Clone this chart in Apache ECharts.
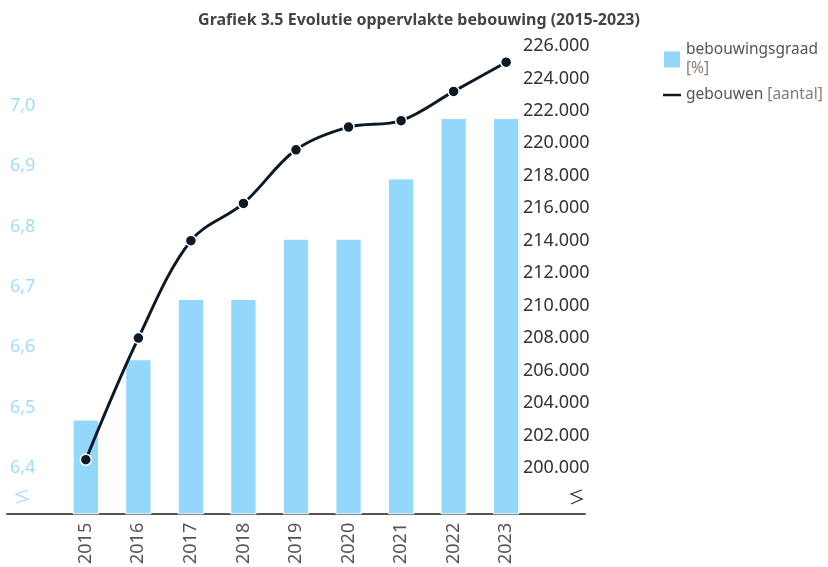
<!DOCTYPE html>
<html><head><meta charset="utf-8">
<script src="https://cdn.jsdelivr.net/npm/echarts@6/dist/echarts.min.js"></script>
<style>html,body{margin:0;padding:0;background:#fff}#c{width:828px;height:567px}</style>
</head><body><div id="c"></div>
<script>
const years = ['2015','2016','2017','2018','2019','2020','2021','2022','2023'];
const bebouwingsgraad = [6.48, 6.58, 6.68, 6.68, 6.78, 6.78, 6.88, 6.98, 6.98];
const gebouwen = [200500, 208000, 214000, 216300, 219600, 221000, 221400, 223200, 225000];
const leftTicks = [6.4, 6.5, 6.6, 6.7, 6.8, 6.9, 7.0];
const rightTicks = [200000,202000,204000,206000,208000,210000,212000,214000,216000,218000,220000,222000,224000,226000];

const FONT = '"Noto Sans", "Open Sans", sans-serif';
const cats = [''].concat(years, ['']);
const barData = ['-'].concat(bebouwingsgraad, ['-']);
const lineData = ['-'].concat(gebouwen, ['-']);

function fmtThousands(v){
  return String(Math.round(v)).replace(/\B(?=(\d{3})+(?!\d))/g, '.');
}

const chart = echarts.init(document.getElementById('c'), null, {renderer:'canvas'});
chart.setOption({
  animation: false,
  backgroundColor: '#fff',
  title: {
    text: 'Grafiek 3.5 Evolutie oppervlakte bebouwing (2015-2023)',
    left: 414, top: 7, textAlign: 'center',
    textStyle: {fontFamily: FONT, fontSize: 16, fontWeight: 'bold', color: '#444'}
  },
  legend: {
    orient: 'vertical', left: 662, top: 42, itemGap: 9, padding: 0,
    itemWidth: 18, itemHeight: 18,
    data: [
      {name: 'bebouwingsgraad', icon: 'rect'},
      {name: 'gebouwen',
       icon: 'path://M0,8.5 L20,8.5 L20,11.5 L0,11.5 Z M0,0 L0.01,0 L0.01,0.01 Z M19.99,19.99 L20,19.99 L20,20 Z',
       itemStyle: {color: '#0b1a26', borderWidth: 0}}
    ],
    formatter: function(n){
      return n === 'bebouwingsgraad' ? '{a|bebouwingsgraad}\n{b|[%]}' : '{a|gebouwen} {b|[aantal]}';
    },
    textStyle: {
      fontFamily: FONT, fontSize: 15.5, color: '#555',
      rich: {a: {fontFamily: FONT, fontSize: 15.5, color: '#555', lineHeight: 19}, b: {fontFamily: FONT, fontSize: 15.5, color: '#8c7b70', lineHeight: 19}}
    }
  },
  grid: {left: 7, right: 243, top: 40, bottom: 53, containLabel: false},
  xAxis: {
    type: 'category', data: cats,
    axisLine: {show: true, lineStyle: {color: '#555', width: 2}},
    axisTick: {show: false},
    axisLabel: {rotate: 90, fontFamily: FONT, fontSize: 18, color: '#555', margin: 9, interval: 0}
  },
  yAxis: [
    {
      type: 'value', position: 'left', min: 6.32375, max: 7.1094,
      axisLine: {show: false}, axisTick: {show: false}, splitLine: {show: false},
      axisLabel: {inside: true, margin: 3, fontFamily: FONT, fontSize: 18, color: '#a3dcfb',
        customValues: leftTicks,
        formatter: function(v){ return v.toFixed(1).replace('.', ','); }}
    },
    {
      type: 'value', position: 'right', min: 197166, max: 226370, offset: -66,
      axisLine: {show: false}, axisTick: {show: false}, splitLine: {show: false},
      axisLabel: {margin: 4, fontFamily: FONT, fontSize: 18, color: '#333',
        customValues: rightTicks,
        formatter: function(v){ return fmtThousands(v); }}
    }
  ],
  series: [
    {
      name: 'bebouwingsgraad', type: 'bar', yAxisIndex: 0, data: barData,
      barWidth: '50%',
      itemStyle: {color: '#94d7fd', borderColor: '#ffffff', borderWidth: 1}
    },
    {
      name: 'gebouwen', type: 'line', yAxisIndex: 1, data: lineData,
      smooth: 0.35, symbol: 'circle', symbolSize: 11,
      lineStyle: {color: '#0b1a26', width: 3},
      itemStyle: {color: '#0b1a26', borderColor: '#ffffff', borderWidth: 1.5}
    }
  ],
  graphic: [
    {type: 'polyline', shape: {points: [[28,490],[16,494],[28,499],[16,503]]},
     style: {stroke: '#a3dcfb', lineWidth: 1.3, fill: null}},
    {type: 'polyline', shape: {points: [[582,490],[571,494],[582,499],[571,504]]},
     style: {stroke: '#333', lineWidth: 1.3, fill: null}}
  ]
});
</script></body></html>
